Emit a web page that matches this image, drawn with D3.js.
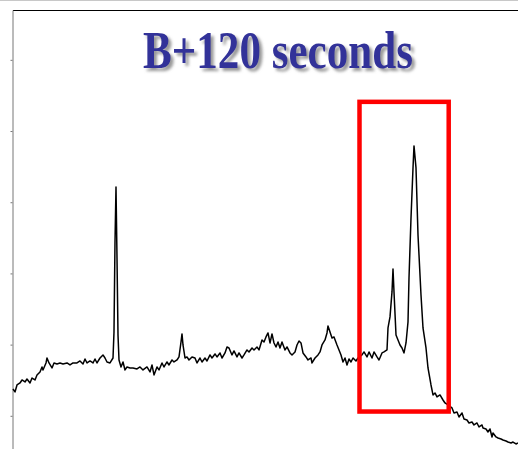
<!DOCTYPE html>
<html>
<head>
<meta charset="utf-8">
<script src="https://cdn.jsdelivr.net/npm/d3@7"></script>
<style>
  body { margin: 0; background: #fff; }
  svg { display: block; }
</style>
</head>
<body>
<svg id="chart"></svg>
<script>
const width = 518,
  height = 449;

const title = "B+120 seconds";
const yTicks = [1000, 2000, 3000, 4000, 5000, 6000];
const highlightX = [346.5, 435.7]; // channel range of the boxed peaks
const highlightY = [1060, 5410]; // counts range of the box

// [channel, counts]
const spectrum = [
  [0, 1377], [2, 1335], [4, 1433], [7, 1461], [9, 1503], [12, 1475], [14, 1517],
  [17, 1461], [19, 1531], [22, 1503], [24, 1574], [27, 1616], [29, 1686], [30, 1644],
  [33, 1742], [34, 1812], [36, 1742], [39, 1672], [41, 1742], [44, 1728], [47, 1742],
  [50, 1728], [54, 1742], [57, 1714], [60, 1742], [64, 1742], [67, 1770], [70, 1728],
  [72, 1798], [74, 1742], [77, 1770], [80, 1742], [82, 1798], [84, 1742], [87, 1812],
  [90, 1855], [92, 1812], [94, 1756], [97, 1742], [100, 1812], [101, 2178], [102, 3442],
  [103, 4215], [104, 3217], [105, 2136], [106, 1784], [108, 1686], [110, 1756], [112, 1644],
  [114, 1686], [117, 1672], [120, 1672], [124, 1658], [127, 1686], [130, 1644], [134, 1686],
  [137, 1616], [139, 1714], [141, 1574], [144, 1686], [146, 1644], [149, 1742], [151, 1686],
  [154, 1756], [156, 1714], [159, 1784], [161, 1756], [164, 1784], [166, 1827], [168, 2037],
  [169, 2150], [170, 1995], [172, 1812], [174, 1827], [176, 1784], [179, 1827], [182, 1812],
  [184, 1742], [187, 1812], [189, 1756], [192, 1812], [194, 1770], [197, 1855], [199, 1812],
  [202, 1869], [204, 1827], [207, 1883], [209, 1812], [212, 1883], [214, 1967], [216, 1953],
  [219, 1855], [221, 1911], [224, 1827], [226, 1883], [229, 1812], [231, 1855], [234, 1925],
  [236, 1897], [239, 1953], [241, 1925], [244, 1967], [246, 1925], [249, 2065], [251, 2037],
  [253, 2108], [255, 2164], [257, 2023], [259, 2150], [261, 2023], [263, 1967], [265, 2037],
  [267, 1953], [269, 2037], [272, 1925], [274, 1967], [277, 1883], [279, 1855], [282, 1897],
  [284, 1995], [286, 2051], [288, 2023], [290, 1883], [293, 1827], [295, 1784], [298, 1812],
  [299, 1742], [302, 1812], [305, 1855], [307, 1897], [309, 1995], [312, 2065], [314, 2164],
  [315, 2262], [317, 2178], [319, 2093], [321, 2108], [324, 1995], [326, 1925], [328, 1855],
  [330, 1756], [332, 1812], [334, 1714], [336, 1798], [338, 1756], [340, 1812], [343, 1770],
  [345, 1812], [349, 1855], [351, 1897], [354, 1827], [356, 1897], [359, 1812], [361, 1897],
  [364, 1827], [366, 1784], [369, 1883], [371, 1897], [374, 1925], [375, 2234], [377, 2389],
  [379, 2740], [380, 3063], [381, 2740], [383, 2136], [385, 2065], [387, 1995], [389, 1953],
  [391, 1883], [393, 2023], [395, 2318], [396, 2936], [398, 3779], [400, 4482], [401, 4791],
  [403, 4482], [405, 3541], [408, 2698], [410, 2234], [413, 1953], [415, 1672], [418, 1433],
  [420, 1293], [422, 1321], [424, 1265], [427, 1293], [430, 1222], [432, 1180], [435, 1152],
  [439, 1110], [441, 1040], [444, 1054], [446, 984], [449, 1040], [451, 955], [454, 941],
  [456, 899], [459, 913], [461, 871], [464, 899], [466, 843], [469, 871], [470, 829],
  [473, 815], [475, 773], [477, 815], [479, 703], [480, 759], [483, 703], [485, 688],
  [488, 674], [490, 660], [493, 646], [495, 632], [498, 618], [500, 632], [503, 604],
  [505, 618]
];

const svg = d3.select("#chart").attr("width", width).attr("height", height);

const x = d3.scaleLinear().domain([0, 505]).range([13, 518]);
const y = d3.scaleLinear().domain([0, 6700]).range([487, 10]);

// title shadow
const defs = svg.append("defs");
defs
  .append("filter")
  .attr("id", "shadow")
  .attr("x", "-10%")
  .attr("y", "-30%")
  .attr("width", "120%")
  .attr("height", "160%")
  .append("feDropShadow")
  .attr("dx", 3)
  .attr("dy", 3)
  .attr("stdDeviation", 1.6)
  .attr("flood-color", "#777")
  .attr("flood-opacity", 0.75);

// faint outer edge
svg
  .append("line")
  .attr("x1", 0)
  .attr("x2", width)
  .attr("y1", 0.5)
  .attr("y2", 0.5)
  .attr("stroke", "#c8c8c8");

// top frame line
svg
  .append("line")
  .attr("x1", x(0))
  .attr("x2", width)
  .attr("y1", y(6700) + 0.5)
  .attr("y2", y(6700) + 0.5)
  .attr("stroke", "#000")
  .attr("stroke-width", 1);

// left axis, ticks only
const axis = svg
  .append("g")
  .attr("transform", `translate(${x(0) - 0.5},0)`)
  .call(d3.axisLeft(y).tickValues(yTicks).tickSize(2).tickSizeOuter(0).tickFormat(""));
axis.selectAll("path, line").attr("stroke", "#777");

// spectrum trace
const line = d3
  .line()
  .x((d) => x(d[0]))
  .y((d) => y(d[1]));

svg
  .append("path")
  .datum(spectrum)
  .attr("fill", "none")
  .attr("stroke", "#000")
  .attr("stroke-width", 1.5)
  .attr("stroke-linejoin", "round")
  .attr("d", line);

// highlight box
svg
  .append("rect")
  .attr("x", x(highlightX[0]))
  .attr("y", y(highlightY[1]))
  .attr("width", x(highlightX[1]) - x(highlightX[0]))
  .attr("height", y(highlightY[0]) - y(highlightY[1]))
  .attr("fill", "none")
  .attr("stroke", "#ff0000")
  .attr("stroke-width", 4.5);

// title
svg
  .append("text")
  .attr("x", 278)
  .attr("y", 68)
  .attr("text-anchor", "middle")
  .attr("font-family", "'Liberation Serif', 'Times New Roman', serif")
  .attr("font-weight", "bold")
  .attr("font-size", 53)
  .attr("textLength", 270)
  .attr("lengthAdjust", "spacingAndGlyphs")
  .attr("fill", "#333399")
  .attr("filter", "url(#shadow)")
  .text(title);
</script>
</body>
</html>
